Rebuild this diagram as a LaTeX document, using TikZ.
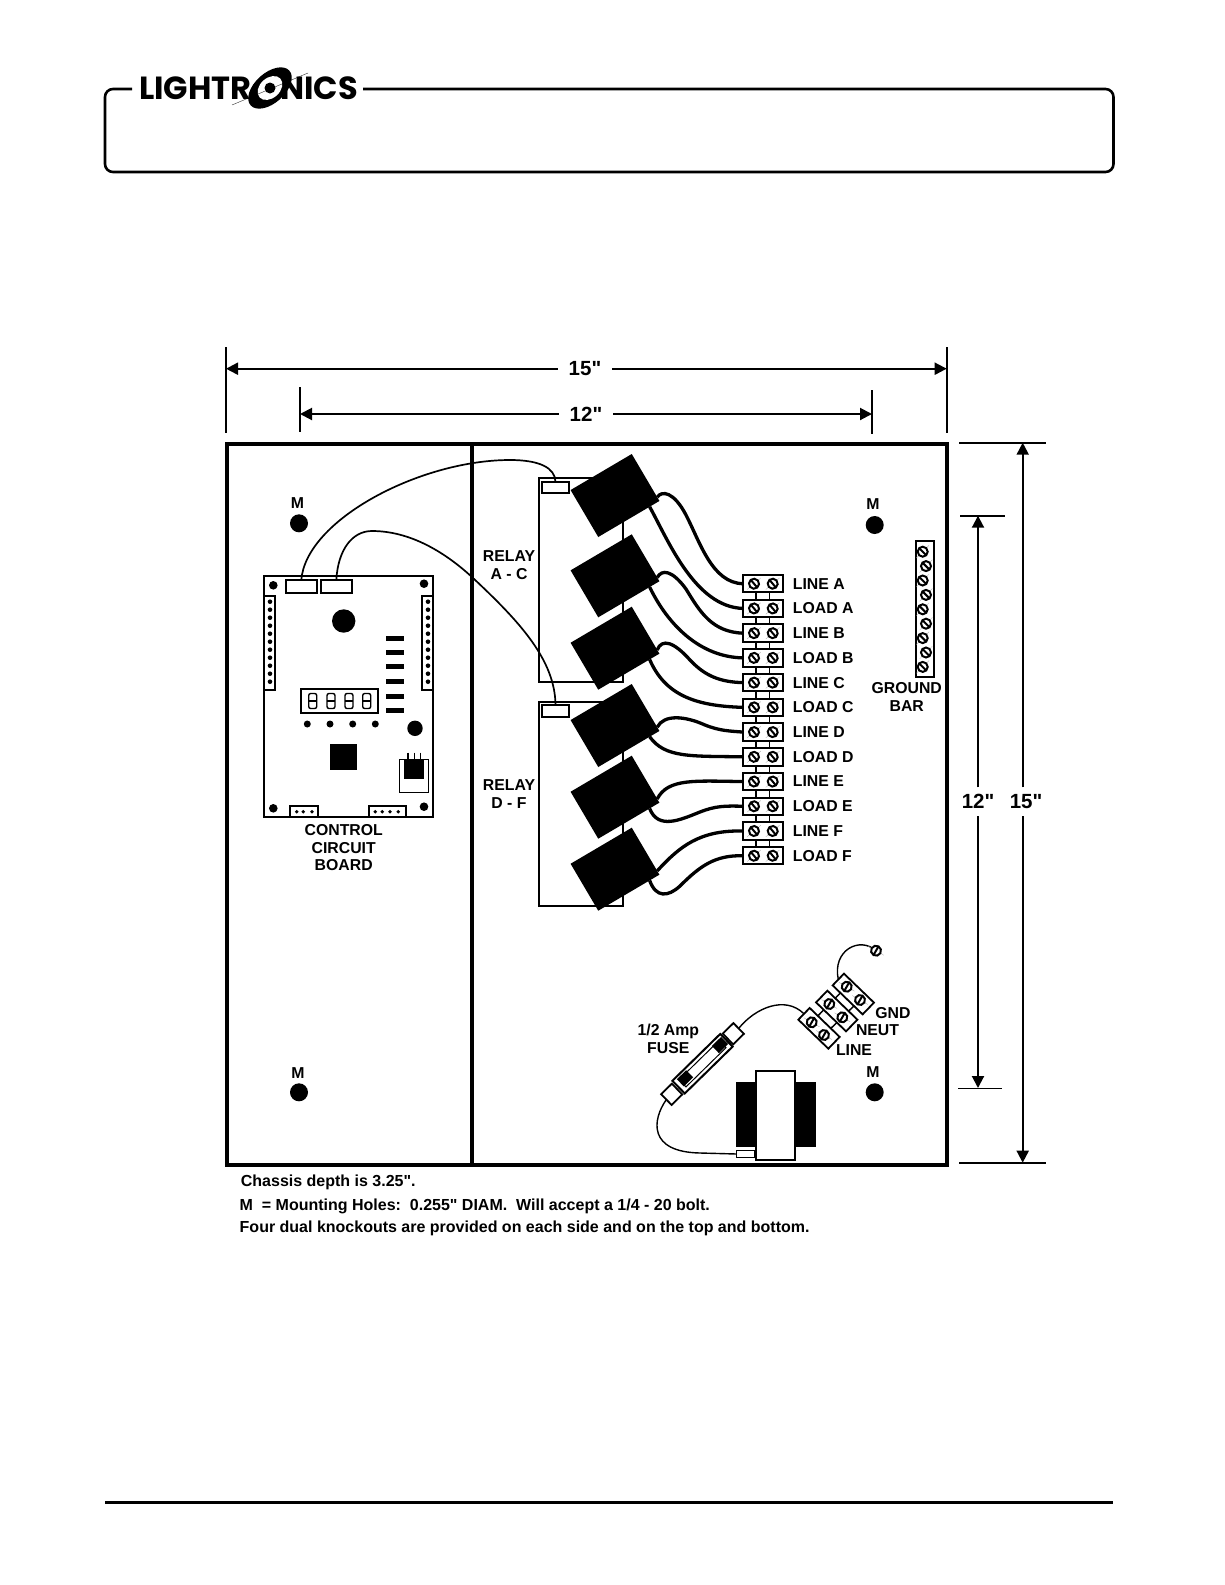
\documentclass[tikz,border=0pt]{standalone}
\usepackage{fontspec}
\usepackage{tikz}
\usetikzlibrary{arrows.meta,calc}
\newfontfamily\diagfont{Liberation Sans}
\newfontfamily\logofont{Poppins}

\tikzset{
	lbl/.style={font=\diagfont\bfseries\fontsize{15.8}{17.8}\selectfont, align=center, inner sep=0pt},
	note/.style={font=\diagfont\bfseries\fontsize{16}{18}\selectfont, right, inner sep=0pt},
	dimlbl/.style={font=\diagfont\bfseries\fontsize{20.5}{22}\selectfont, inner xsep=11pt, inner ysep=7pt},
	dimarrow/.style={line width=2pt, -{Triangle[length=12pt,width=12pt]}},
	relay/.style={fill=black, minimum width=71pt, minimum height=54.5pt, rotate=30.5, inner sep=0pt, outer sep=0pt},
	board/.style={draw, line width=1.8pt, inner sep=0pt, outer sep=0pt},
	conn/.style={draw, fill=white, line width=1.8pt, inner sep=0pt, outer sep=0pt},
	termbox/.style={draw, fill=white, line width=2pt, minimum width=40pt, minimum height=17.5pt, inner sep=0pt, outer sep=0pt},
	wire/.style={line width=3.3pt},
	cable/.style={line width=1.7pt},
	thinwire/.style={line width=1.4pt}
}

%screw head: name of the centre, slash angle
\newcommand{\screwat}[2]{
	\begin{scope}[shift={(#1)}, rotate=#2]
		\draw[gray!70, line width=0.3pt] (0,-9) -- (0,9);
		\draw[fill=white, line width=2pt] (0,0) circle(5pt);
		\draw[line width=2pt] (-5,0) -- (5,0);
	\end{scope}
}

\begin{document}
\begin{tikzpicture}[x=1pt, y=-1pt]
	\useasboundingbox (0,0) rectangle (1225,1585);
	
	%Header frame
	\draw[line width=2.6pt, rounded corners=8pt] (132,89) -- (105,89) -- (105,172) -- (1113.5,172) -- (1113.5,89) -- (363,89);
	\node[right, inner sep=0pt, font=\logofont\bfseries\fontsize{32}{34}\selectfont] (logoa) at (139,88.5) {LIGHTR};
	\node[left, inner sep=0pt, font=\logofont\bfseries\fontsize{32}{34}\selectfont] (logob) at (358,88.5) {NICS};
	\fill[rotate around={42:(270,88)}] (270,88) ellipse(26pt and 15pt);
	\fill[white, rotate around={42:(270,88)}] (270,88) ellipse(14pt and 10pt);
	\fill (270,88) circle(5.5pt);
	\draw[line width=0.3pt] (232,105) -- (308,73);
	
	%Footer rule
	\draw[line width=3pt] (105,1502) -- (1113,1502);
	
	%Dimensions top
	\coordinate (extLa) at (226,368.7);
	\coordinate (extRa) at (946.7,368.7);
	\coordinate (extLb) at (300,414);
	\coordinate (extRb) at (872,414);
	\draw[line width=2pt] (225.7,347) -- (225.7,433);
	\draw[line width=2pt] (946.7,347) -- (946.7,433);
	\draw[line width=2pt] (300,387) -- (300,432);
	\draw[line width=2pt] (872,390) -- (872,434);
	\node[dimlbl] (dima) at (585,368.7) {15"};
	\node[dimlbl] (dimb) at (586,414) {12"};
	\draw[dimarrow] (dima) -- (extLa);
	\draw[dimarrow] (dima) -- (extRa);
	\draw[dimarrow] (dimb) -- (extLb);
	\draw[dimarrow] (dimb) -- (extRb);
	
	%Dimensions right
	\coordinate (extTa) at (1022.7,442.7);
	\coordinate (extBa) at (1022.7,1162.7);
	\coordinate (extTb) at (978,515.7);
	\coordinate (extBb) at (978,1088);
	\draw[line width=2pt] (959,442.7) -- (1046,442.7);
	\draw[line width=2pt] (959,1162.7) -- (1046,1162.7);
	\draw[line width=2pt] (960,515.7) -- (1005,515.7);
	\draw[line width=1pt] (958,1088) -- (1002,1088);
	\node[dimlbl] (dimc) at (1026,801.7) {15"};
	\node[dimlbl] (dimd) at (978,801.7) {12"};
	\draw[dimarrow] (dimc.north -| extTa) -- (extTa);
	\draw[dimarrow] (dimc.south -| extBa) -- (extBa);
	\draw[dimarrow] (dimd) -- (extTb);
	\draw[dimarrow] (dimd) -- (extBb);
	
	%Chassis
	\draw[line width=4pt] (227,444) rectangle (947,1164.5);
	\draw[line width=4pt] (472,444) -- (472,1164.5);
	
	%Mounting holes
	\foreach \mname/\mx/\my/\lx/\ly in {ma/299/523.3/297.5/503, mb/874.7/525/873/504, mc/299/1092.3/298/1073, md/874.7/1092.3/873/1072} {
		\fill (\mx,\my) circle(9pt);
		\node[lbl] (\mname) at (\lx,\ly) {M};
	}
	
	%Notes
	\node[note] (notea) at (240.7,1182.5) {Chassis depth is 3.25".};
	\node[note] (noteb) at (239.5,1206.5) {M\ \ = Mounting Holes:\ \ 0.255" DIAM.\ \ Will accept a 1/4 - 20 bolt.};
	\node[note] (notec) at (239.5,1228.5) {Four dual knockouts are provided on each side and on the top and bottom.};
	
	%Control board
	\node[board, line width=2.2pt, minimum width=169pt, minimum height=241.3pt] (ccb) at (348.8,696.7) {};
	\node[conn, minimum width=30.7pt, minimum height=12.7pt] (ccbcona) at (301.3,586.3) {};
	\node[conn, minimum width=30.7pt, minimum height=12.7pt] (ccbconb) at (336.3,586.3) {};
	\foreach \hx/\hy in {273.3/585.3, 424/583.7, 273.3/808.3, 424/806.7}
		\fill (\hx,\hy) circle(4.3pt);
	\draw[line width=1.8pt] (264.3,596) rectangle (275.3,690);
	\draw[line width=1.8pt] (422.3,596) rectangle (433.3,690);
	\foreach \i in {0,...,10} {
		\fill (270,601.7+8*\i) circle(2.3pt);
		\fill (428,601.7+8*\i) circle(2.3pt);
	}
	\fill (343.7,621) circle(11.7pt);
	\fill (415,728.3) circle(7.7pt);
	\foreach \by in {638.3,652.7,666.7,681.7,696,710.3}
		\fill (386,\by-2.5) rectangle (404,\by+2.5);
	\draw[line width=2pt] (300.7,689) rectangle (378.3,712.7);
	\foreach \dx in {312.7,331,349,366.7} {
		\draw[line width=1.4pt, rounded corners=2pt] (\dx-4,693.5) rectangle (\dx+4,708.5);
		\draw[line width=1.4pt] (\dx-4,701) -- (\dx+4,701);
	}
	\foreach \lx in {307.3,330,352.7,375.3}
		\fill (\lx,724) circle(3.5pt);
	\fill (330,744) rectangle (356.7,770);
	\draw[line width=1pt] (399.3,759.3) rectangle (428.7,792.3);
	\fill (404.3,759) rectangle (424,778.7);
	\foreach \px in {408,414.3,420.7}
		\draw[line width=1.2pt] (\px,752.7) -- (\px,759);
	\draw[line width=1.8pt] (290,817.3) -- (290,805.7) -- (318.3,805.7) -- (318.3,817.3);
	\draw[line width=1.8pt] (368.7,817.3) -- (368.7,805.7) -- (405.7,805.7) -- (405.7,817.3);
	\foreach \px in {296.7,303.3,312,375.3,382.3,390,398.3}
		\fill (\px,811.7) circle(1.9pt);
	\node[lbl] (ccblbl) at (343.7,847.7) {CONTROL\\CIRCUIT\\BOARD};
	
	%Relay boards
	\node[board, minimum width=84.3pt, minimum height=204pt] (rbrda) at (581.2,580.3) {};
	\node[board, minimum width=84.3pt, minimum height=204pt] (rbrdb) at (581.2,803.7) {};
	\node[conn, minimum width=27.6pt, minimum height=11.6pt] (rcona) at (555.5,487.5) {};
	\node[conn, minimum width=27.6pt, minimum height=11.6pt] (rconb) at (555.5,710.8) {};
	\node[lbl] (rlbla) at (509,565.5) {RELAY\\A - C};
	\node[lbl] (rlblb) at (509,793.8) {RELAY\\D - F};
	
	%Relays
	\foreach \rname/\ry in {A/495.5, B/575.8, C/648.2, D/725.5, E/797.2, F/869.2} {
		\node[relay] (relay\rname) at (615,\ry) {};
		\coordinate (line\rname s) at ($(relay\rname.south east)!0.08!(relay\rname.north east)$);
		\coordinate (load\rname s) at ($(relay\rname.south east)!0.16!(relay\rname.south west)$);
	}
	
	%Terminals
	\foreach \tname/\tlabel [count=\ti from 0] in {lineA/LINE A, loadA/LOAD A, lineB/LINE B, loadB/LOAD B, lineC/LINE C, loadC/LOAD C, lineD/LINE D, loadD/LOAD D, lineE/LINE E, loadE/LOAD E, lineF/LINE F, loadF/LOAD F} {
		\pgfmathsetmacro{\ty}{583.7+24.73*\ti}
		\node[termbox] (\tname) at (763,\ty) {};
		\screwat{754,\ty}{-50}
		\screwat{772.7,\ty}{-50}
		\node[lbl, right] (\tname lbl) at (792.7,\ty) {\tlabel};
	}
	\foreach \ta/\tb in {lineA/loadA, loadA/lineB, lineB/loadB, loadB/lineC, lineC/loadC, loadC/lineD, lineD/loadD, loadD/lineE, lineE/loadE, loadE/lineF, lineF/loadF} {
		\draw[line width=1.8pt] ([xshift=-7pt]\ta.south) -- ([xshift=-7pt]\tb.north);
		\draw[line width=1.8pt] ([xshift=6.5pt]\ta.south) -- ([xshift=6.5pt]\tb.north);
	}
	
	%Wires
	\draw[wire] (lineAs) .. controls (662,490) and (674,492) .. (686,515) .. controls (700,542) and (712,583) .. (lineA.west);
	\draw[wire] (loadAs) .. controls (668,540) and (695,607) .. (loadA.west);
	\draw[wire] (lineBs) .. controls (662,569) and (672,570) .. (686,589) .. controls (700,612) and (712,632) .. (lineB.west);
	\draw[wire] (loadBs) .. controls (668,625) and (700,657) .. (loadB.west);
	\draw[wire] (lineCs) .. controls (662,638) and (674,642) .. (690,660) .. controls (705,676) and (720,682) .. (lineC.west);
	\draw[wire] (loadCs) .. controls (665,695) and (695,706) .. (loadC.west);
	\draw[wire] (lineDs) .. controls (664,714) and (685,716) .. (705,725) .. controls (720,731) and (730,731) .. (lineD.west);
	\draw[wire] (loadDs) .. controls (665,758) and (690,756) .. (loadD.west);
	\draw[wire] (lineEs) .. controls (668,778) and (695,781) .. (lineE.west);
	\draw[wire] (loadEs) .. controls (658,830) and (680,820) .. (700,812) .. controls (715,806) and (725,805.7) .. (loadE.west);
	\draw[wire] (lineFs) .. controls (680,846) and (700,830) .. (lineF.west);
	\draw[wire] (loadFs) .. controls (656,898) and (668,897) .. (680,886) .. controls (700,866) and (715,855) .. (loadF.west);
	
	%Ribbon cables
	\draw[cable] (ccbcona.north) .. controls (306,520) and (420,460) .. (510,460) .. controls (540,460) and (555,468) .. (rcona.north);
	\draw[cable] (ccbconb.north) .. controls (338,550) and (352,531) .. (372,531) .. controls (410,531) and (445,552) .. (473,578) .. controls (520,622) and (555,660) .. (rconb.north);
	
	%Ground bar
	\node[board, fill=white, minimum width=18.3pt, minimum height=136.6pt] (gbar) at (924.8,609) {};
	\foreach \i in {0,...,8} {
		\pgfmathsetmacro{\gx}{mod(\i,2)==0 ? 922.7 : 926}
		\screwat{\gx,551.7+14.4*\i}{-45}
	}
	\node[lbl] (gbarlbl) at (906.7,697) {GROUND\\BAR};
	
	%Transformer
	\fill (736,1082.3) rectangle (815.7,1147.3);
	\node[conn, minimum width=39.3pt, minimum height=89pt] (xfmr) at (775.3,1115.5) {};
	\node[conn, line width=1.2pt, minimum width=18.3pt, minimum height=6.6pt] (xfmrtab) at (745.8,1154) {};
	
	%Fuse
	\node[conn, rotate=44.4, minimum width=15pt, minimum height=15pt] (ftaba) at (733.3,1033.7) {};
	\node[conn, rotate=44.4, minimum width=15pt, minimum height=15pt] (ftabb) at (671.7,1094.3) {};
	\node[conn, rotate=44.4, line width=2pt, minimum width=67pt, minimum height=17.7pt] (fuse) at (702.5,1063.7) {};
	\node[conn, rotate=44.4, line width=1pt, minimum width=56pt, minimum height=10pt] (fusein) at (702.5,1063.7) {};
	\node[rotate=44.4, fill=black, inner sep=0pt, minimum width=13pt, minimum height=10pt] (fblka) at (720,1045) {};
	\node[rotate=44.4, fill=black, inner sep=0pt, minimum width=13pt, minimum height=10pt] (fblkb) at (685,1078.3) {};
	\node[lbl] (fuselbl) at (668.3,1039) {1/2 Amp\\FUSE};
	
	%Terminal strip
	\coordinate (lsa) at (811.7,1022.3);
	\coordinate (lsb) at (824,1035);
	\coordinate (nsa) at (829.3,1004);
	\coordinate (nsb) at (842.3,1017.3);
	\coordinate (gsa) at (846.7,986.7);
	\coordinate (gsb) at (860,1000);
	\draw[line width=1.5pt] (lsa) -- (nsa) -- (gsa);
	\draw[line width=1.5pt] (lsb) -- (nsb) -- (gsb);
	\node[conn, rotate=-44, minimum width=41.7pt, minimum height=16.3pt] (lineterm) at (819,1028.3) {};
	\node[conn, rotate=-44, minimum width=41.7pt, minimum height=16.3pt] (neutterm) at (836.7,1011) {};
	\node[conn, rotate=-44, minimum width=41.7pt, minimum height=16.3pt] (gndterm) at (853.3,994) {};
	\foreach \s in {lsa,lsb,nsa,nsb,gsa,gsb}
		\screwat{\s}{60}
	\coordinate (gscrew) at (876,950.7);
	\draw[thinwire] (ftaba.east) .. controls (755,1008) and (785,995) .. (lineterm.west);
	\draw[thinwire] (ftabb.west) .. controls (652,1120) and (648,1152) .. (700,1153) -- (xfmrtab.west);
	\draw[thinwire] (gndterm.west) .. controls (832,950) and (860,936) .. (gscrew);
	\screwat{gscrew}{60}
	\node[lbl] (gndlbl) at (893,1013) {GND};
	\node[lbl] (neutlbl) at (877.5,1030) {NEUT};
	\node[lbl] (linelbl) at (854,1050) {LINE};
\end{tikzpicture}
\end{document}
